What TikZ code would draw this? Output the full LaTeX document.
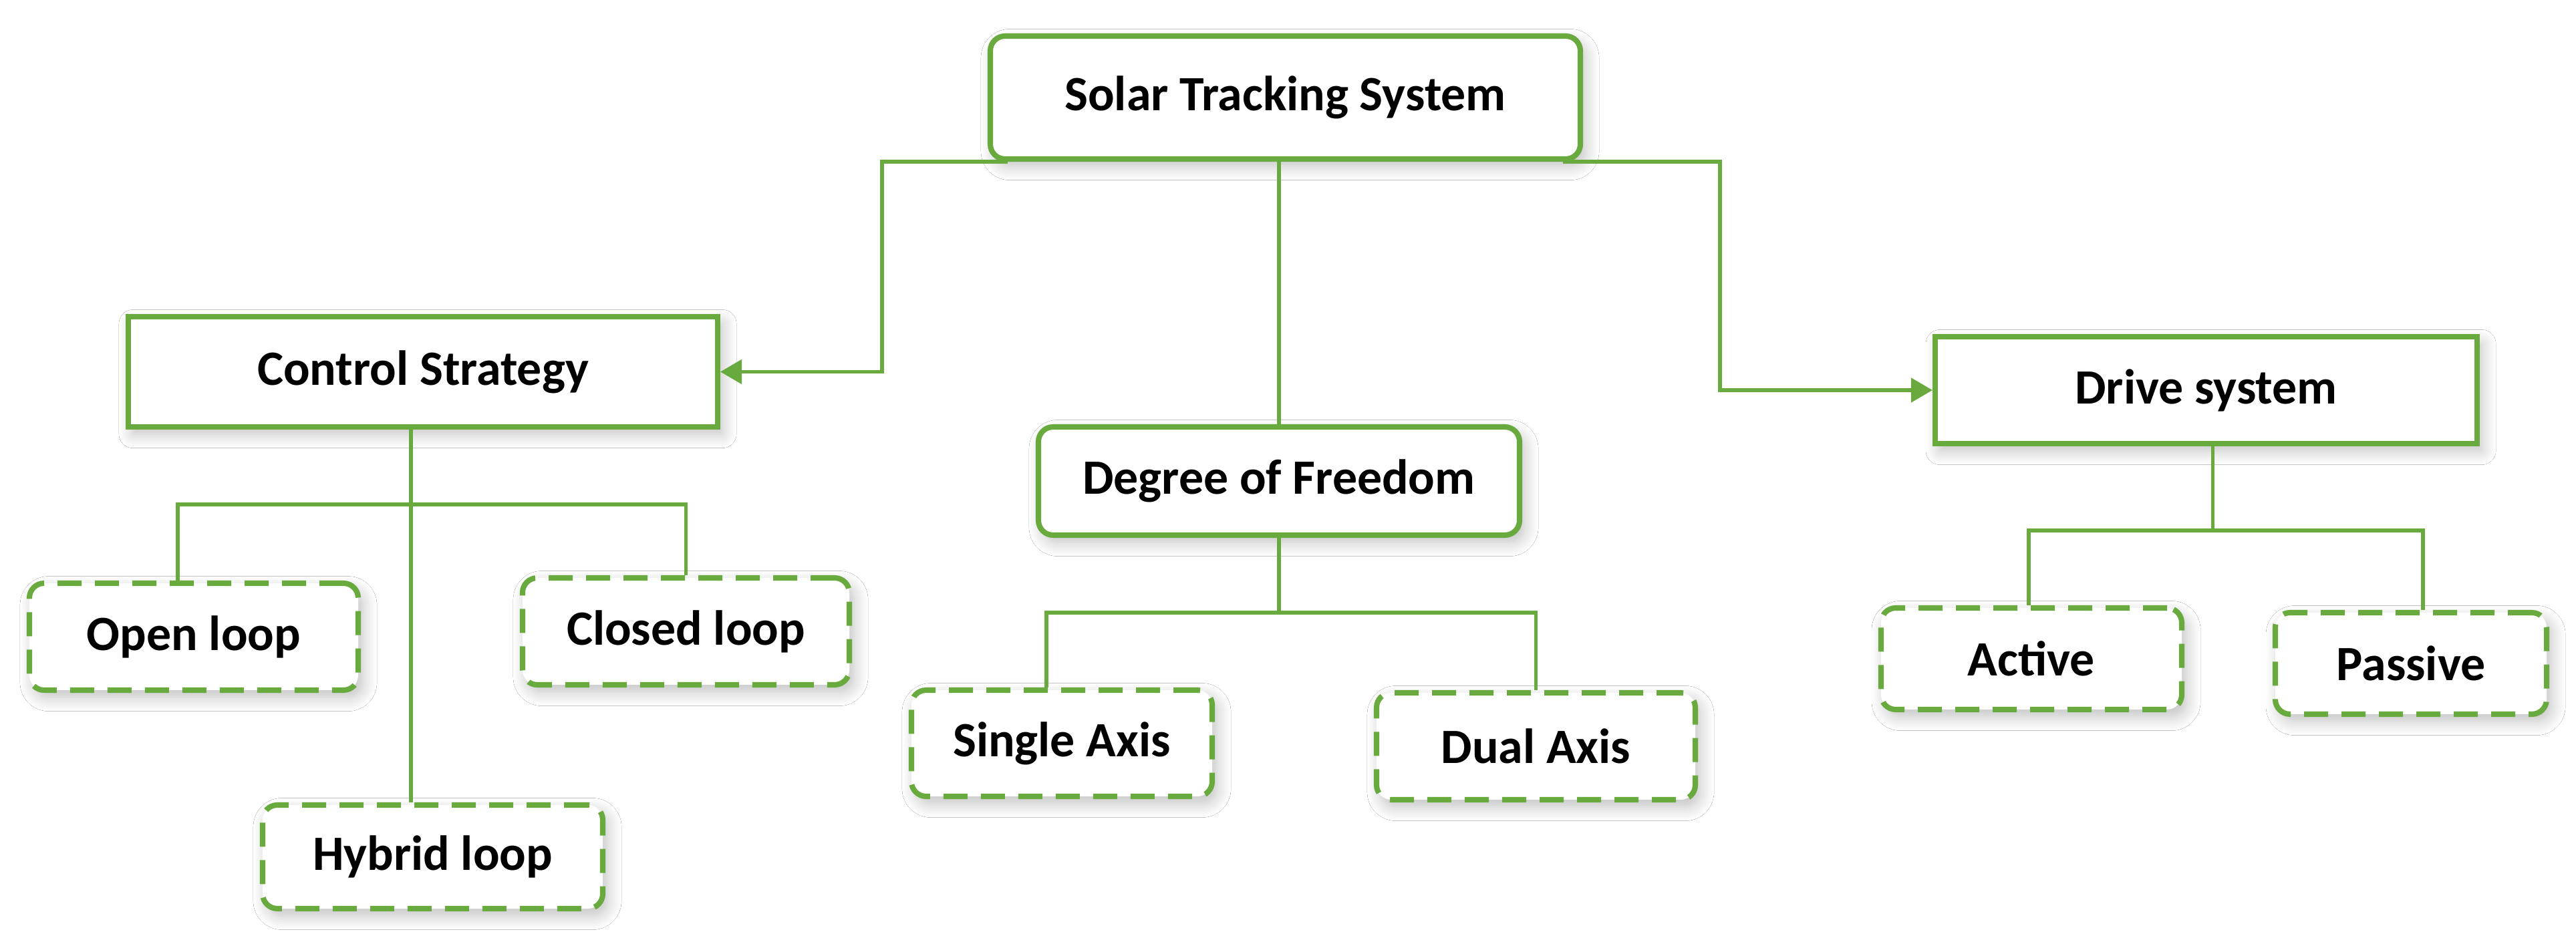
\documentclass[tikz,border=0pt]{standalone}
\usepackage{fontspec}
\setmainfont{Carlito}
\usetikzlibrary{arrows.meta,calc,shadows.blur}
\definecolor{grn}{RGB}{104,170,62}
\tikzset{
  boxbase/.style={draw=grn, fill=white, line width=2.3pt, align=center, inner sep=0pt,
     font=\fontsize{21}{25}\selectfont\bfseries,
     blur shadow={shadow blur steps=8, shadow xshift=2pt, shadow yshift=-3pt, shadow opacity=25, shadow blur radius=6pt}},
  rbox/.style={boxbase, rounded corners=0.22cm},
  sbox/.style={boxbase},
  dbox/.style={boxbase, rounded corners=0.22cm, dash pattern=on 0.36cm off 0.2cm},
  link/.style={draw=grn, line width=1.5pt},
  arr/.style={link, -{Triangle[length=0.32cm,width=0.36cm]}}
}
\begin{document}
\begin{tikzpicture}
\useasboundingbox[fill=white] (0,0) rectangle (38.55,-13.98);
\node[rbox, minimum width=8.83cm, minimum height=1.84cm] (S) at (19.235,-1.46) {Solar Tracking System};
\node[sbox, minimum width=8.82cm, minimum height=1.65cm] (CS) at (6.33,-5.565) {Control Strategy};
\node[rbox, minimum width=7.20cm, minimum height=1.62cm] (DF) at (19.14,-7.20) {Degree of Freedom};
\node[sbox, minimum width=8.11cm, minimum height=1.60cm] (DS) at (33.015,-5.84) {Drive system};
\node[dbox, minimum width=4.92cm, minimum height=1.60cm] (OL) at (2.90,-9.53) {Open loop};
\node[dbox, minimum width=4.89cm, minimum height=1.60cm] (CL) at (10.265,-9.45) {Closed loop};
\node[dbox, minimum width=5.09cm, minimum height=1.55cm] (HL) at (6.475,-12.825) {Hybrid loop};
\node[dbox, minimum width=4.50cm, minimum height=1.59cm] (SA) at (15.89,-11.125) {Single Axis};
\node[dbox, minimum width=4.77cm, minimum height=1.60cm] (DA) at (22.985,-11.17) {Dual Axis};
\node[dbox, minimum width=4.50cm, minimum height=1.52cm] (AC) at (30.40,-9.86) {Active};
\node[dbox, minimum width=4.06cm, minimum height=1.52cm] (PA) at (36.08,-9.93) {Passive};

\coordinate (lk) at (13.20,-2.35);
\coordinate (rk) at (25.74,-2.35);
% top-level arrows
\draw[arr] ($(S.south west)+(0.3,0)$) -| (CS.east -| lk) -- (CS.east);
\draw[arr] ($(S.south east)+(-0.3,0)$) -| (DS.west -| rk) -- (DS.west);
\draw[link] (DF.north) -- (DF.north |- S.south);
% control strategy
\coordinate (ct) at ($(CS.south)+(-0.18,0)$);
\coordinate (cb) at (0,-7.55);
\draw[link] (ct) -- (ct |- HL.north);
\coordinate (oltop) at ($(OL.north)+(-0.24,0)$);
\draw[link] (oltop) |- (cb -| CL.north) -- (CL.north);
% degree of freedom
\coordinate (db) at (0,-9.17);
\coordinate (dft) at (DF.south);
\draw[link] (dft) -- (dft |- db);
\coordinate (satop) at ($(SA.north)+(-0.23,0)$);
\draw[link] (satop) |- (db -| DA.north) -- (DA.north);
% drive system
\coordinate (sb) at (0,-7.94);
\coordinate (dst) at ($(DS.south)+(0.10,0)$);
\draw[link] (dst) -- (dst |- sb);
\coordinate (actop) at ($(AC.north)+(-0.04,0)$);
\coordinate (patop) at ($(PA.north)+(0.18,0)$);
\draw[link] (actop) |- (sb -| patop) -- (patop);
\end{tikzpicture}
\end{document}
